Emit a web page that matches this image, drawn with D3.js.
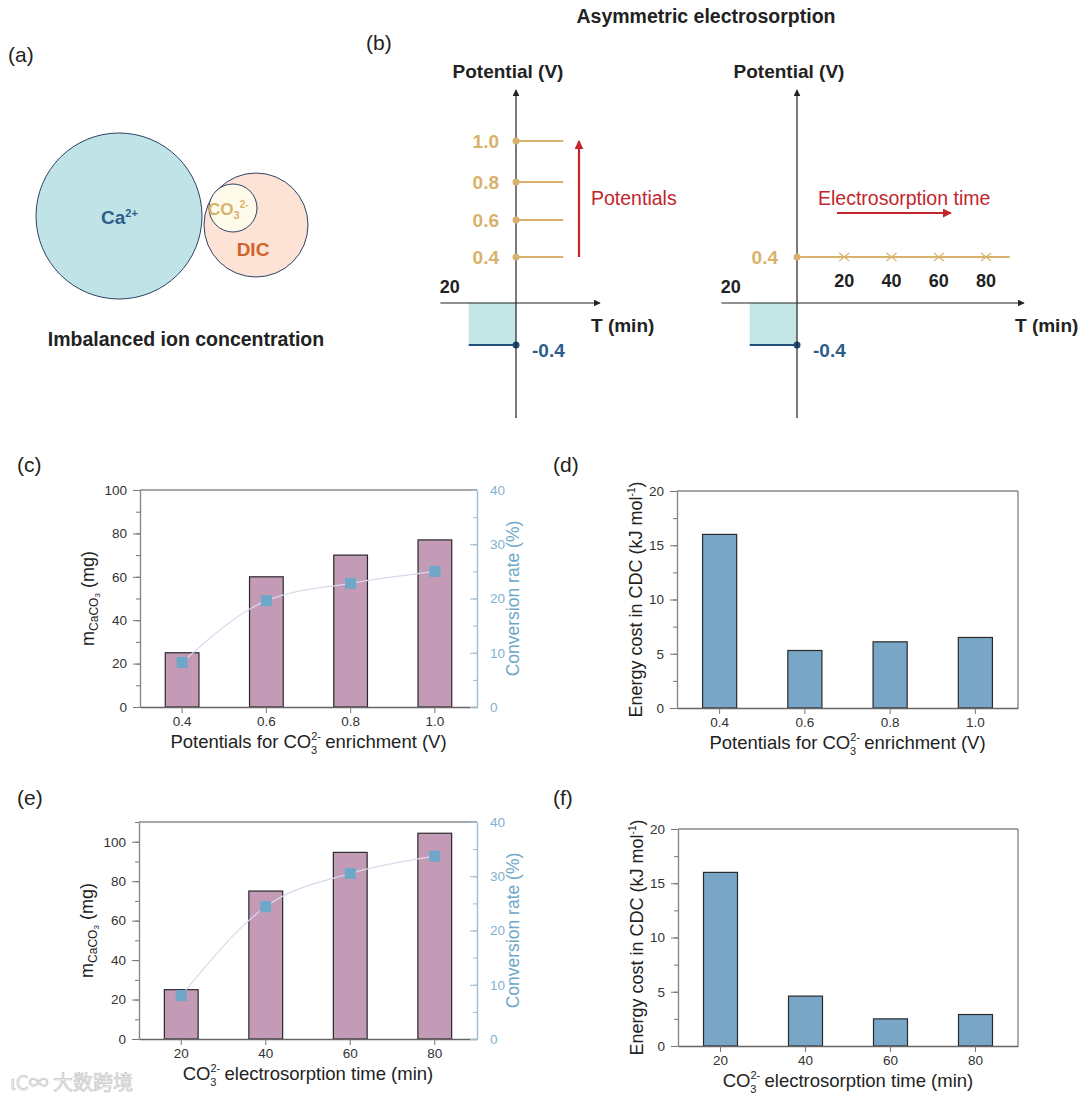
<!DOCTYPE html>
<html>
<head>
<meta charset="utf-8">
<title>Asymmetric electrosorption</title>
<script src="https://d3js.org/d3.v7.min.js"></script>
<style>
  body { margin: 0; background: #fff; }
  svg { display: block; font-family: "Liberation Sans", Arial, sans-serif; }
</style>
</head>
<body>
<script>
// data
var potentials = ["0.4", "0.6", "0.8", "1.0"];
var massByPotential = [25, 60, 70, 77];
var convByPotential = [8.2, 19.6, 22.8, 25.0];
var energyByPotential = [16.0, 5.3, 6.1, 6.5];

var times = ["20", "40", "60", "80"];
var massByTime = [25, 75, 94.6, 104.3];
var convByTime = [8.0, 24.4, 30.5, 33.7];
var energyByTime = [16.0, 4.6, 2.5, 2.9];

// schematic values in panel (b)
var enrichPotentials = [0.4, 0.6, 0.8, 1.0];
var enrichTimes = [20, 40, 60, 80];
var releasePotential = -0.4;
var releaseTime = 20;

var tan = "#d8b26c", navy = "#1f4e79", navyText = "#2c5d8a", teal = "#c3e5e6",
    red = "#c1262d", pink = "#c39bb7", blueBar = "#79a6c6", convBlue = "#6ea7c8";

var svg = d3.select("body").append("svg")
  .attr("width", 1080).attr("height", 1102);

var defs = svg.append("defs");
function marker(id, color, size) {
  defs.append("marker").attr("id", id)
    .attr("viewBox", "0 0 10 10").attr("refX", 9).attr("refY", 5)
    .attr("markerWidth", size).attr("markerHeight", size)
    .attr("markerUnits", "userSpaceOnUse").attr("orient", "auto")
    .append("path").attr("d", "M0,0L10,5L0,10z").attr("fill", color);
}
marker("arrK", "#222", 7);
marker("arrR", red, 9);

// panel letters
[["(a)", 8, 62], ["(b)", 366, 50], ["(c)", 17, 472], ["(d)", 553, 472], ["(e)", 17, 805], ["(f)", 553, 805]]
  .forEach(function(d) {
    svg.append("text").attr("x", d[1]).attr("y", d[2]).attr("font-size", 21).attr("fill", "#222").text(d[0]);
  });

// ---------- (a) ----------
var ga = svg.append("g");
ga.append("circle").attr("cx", 119).attr("cy", 216).attr("r", 83)
  .attr("fill", "#bfe3e7").attr("stroke", "#2e4263").attr("stroke-width", 1);
ga.append("circle").attr("cx", 256).attr("cy", 225).attr("r", 52)
  .attr("fill", "#fce3d6").attr("stroke", "#2e4263").attr("stroke-width", 1);
ga.append("circle").attr("cx", 233).attr("cy", 208).attr("r", 24)
  .attr("fill", "#fffbea").attr("stroke", "#2e4263").attr("stroke-width", 1);
var ca = ga.append("text").attr("x", 101).attr("y", 224).attr("font-size", 19)
  .attr("font-weight", "bold").attr("fill", navyText);
ca.append("tspan").text("Ca");
ca.append("tspan").attr("font-size", 11).attr("dy", -7).text("2+");
var co = ga.append("text").attr("x", 208).attr("y", 215).attr("font-size", 17)
  .attr("font-weight", "bold").attr("fill", tan);
co.append("tspan").text("CO");
co.append("tspan").attr("font-size", 11).attr("dy", 4).text("3");
co.append("tspan").attr("font-size", 10).attr("dy", -11).text("2-");
ga.append("text").attr("x", 253).attr("y", 256).attr("text-anchor", "middle")
  .attr("font-size", 19).attr("font-weight", "bold").attr("fill", "#d0622b").text("DIC");
ga.append("text").attr("x", 186).attr("y", 346).attr("text-anchor", "middle")
  .attr("font-size", 19.5).attr("font-weight", "bold").attr("fill", "#222").text("Imbalanced ion concentration");

// ---------- (b) ----------
svg.append("text").attr("x", 706).attr("y", 23).attr("text-anchor", "middle")
  .attr("font-size", 19.5).attr("font-weight", "bold").attr("fill", "#222").text("Asymmetric electrosorption");

// schematic potential scale (not linear across zero)
var yPot = d3.scaleLinear()
  .domain([-0.4, 0, 0.4, 0.6, 0.8, 1.0])
  .range([345, 303, 257, 220, 182, 141]);

function schematic(ax, xEnd) {
  var g = svg.append("g");
  var t = d3.scaleLinear().domain([0, 80]).range([ax, ax + 189]);
  var y0 = yPot(0);
  // release step
  g.append("rect").attr("x", t(-releaseTime)).attr("y", y0)
    .attr("width", t(0) - t(-releaseTime)).attr("height", yPot(releasePotential) - y0)
    .attr("fill", teal);
  g.append("line").attr("x1", t(-releaseTime)).attr("x2", ax)
    .attr("y1", yPot(releasePotential)).attr("y2", yPot(releasePotential))
    .attr("stroke", navy).attr("stroke-width", 2);
  g.append("circle").attr("cx", ax).attr("cy", yPot(releasePotential)).attr("r", 3.5).attr("fill", navy);
  g.append("text").attr("x", ax + 16).attr("y", yPot(releasePotential) + 12)
    .attr("font-size", 19).attr("font-weight", "bold").attr("fill", navyText).text("-0.4");
  // axes
  g.append("line").attr("x1", ax).attr("x2", ax).attr("y1", 418).attr("y2", 90)
    .attr("stroke", "#222").attr("stroke-width", 1.2).attr("marker-end", "url(#arrK)");
  g.append("line").attr("x1", t(-32)).attr("x2", xEnd).attr("y1", y0).attr("y2", y0)
    .attr("stroke", "#222").attr("stroke-width", 1.2).attr("marker-end", "url(#arrK)");
  g.append("text").attr("x", ax - 8).attr("y", 78).attr("text-anchor", "middle")
    .attr("font-size", 19).attr("font-weight", "bold").attr("fill", "#222").text("Potential (V)");
  g.append("text").attr("x", xEnd - 9).attr("y", y0 + 29)
    .attr("font-size", 19).attr("font-weight", "bold").attr("fill", "#222").text("T (min)");
  g.append("text").attr("x", t(-20) - 19).attr("y", y0 - 10).attr("text-anchor", "middle")
    .attr("font-size", 18).attr("font-weight", "bold").attr("fill", "#222").text(releaseTime);
  return { g: g, t: t };
}

// left schematic: several potentials
var left = schematic(516, 600);
left.g.selectAll(".pl").data(enrichPotentials).enter().append("line")
  .attr("x1", 516).attr("x2", left.t(20))
  .attr("y1", function(d) { return yPot(d); }).attr("y2", function(d) { return yPot(d); })
  .attr("stroke", tan).attr("stroke-width", 2);
left.g.selectAll(".pd").data(enrichPotentials).enter().append("circle")
  .attr("cx", 516).attr("cy", function(d) { return yPot(d); }).attr("r", 3.5).attr("fill", tan);
left.g.selectAll(".pt").data(enrichPotentials).enter().append("text")
  .attr("x", 499).attr("y", function(d) { return yPot(d) + 7; }).attr("text-anchor", "end")
  .attr("font-size", 19).attr("font-weight", "bold").attr("fill", tan)
  .text(function(d) { return d.toFixed(1); });
left.g.append("line").attr("x1", 579).attr("x2", 579)
  .attr("y1", yPot(0.4)).attr("y2", yPot(1.0))
  .attr("stroke", red).attr("stroke-width", 2.2).attr("marker-end", "url(#arrR)");
left.g.append("text").attr("x", 591).attr("y", 205)
  .attr("font-size", 19.5).attr("fill", red).text("Potentials");

// right schematic: one potential, several times
var right = schematic(797, 1024);
right.g.append("line").attr("x1", 797).attr("x2", right.t(90))
  .attr("y1", yPot(0.4)).attr("y2", yPot(0.4)).attr("stroke", tan).attr("stroke-width", 2);
right.g.append("circle").attr("cx", 797).attr("cy", yPot(0.4)).attr("r", 3.5).attr("fill", tan);
right.g.append("text").attr("x", 778).attr("y", yPot(0.4) + 7).attr("text-anchor", "end")
  .attr("font-size", 19).attr("font-weight", "bold").attr("fill", tan).text("0.4");
right.g.selectAll(".tx").data(enrichTimes).enter().append("path")
  .attr("d", function(d) {
    var x = right.t(d), y = yPot(0.4);
    return "M" + (x - 5) + "," + (y - 4) + "L" + (x + 5) + "," + (y + 4) +
           "M" + (x - 5) + "," + (y + 4) + "L" + (x + 5) + "," + (y - 4);
  })
  .attr("stroke", tan).attr("stroke-width", 1.2);
right.g.selectAll(".tl").data(enrichTimes).enter().append("text")
  .attr("x", function(d) { return right.t(d); }).attr("y", 287).attr("text-anchor", "middle")
  .attr("font-size", 18).attr("font-weight", "bold").attr("fill", "#222").text(function(d) { return d; });
right.g.append("text").attr("x", 818).attr("y", 205)
  .attr("font-size", 19.5).attr("fill", red).text("Electrosorption time");
right.g.append("line").attr("x1", 837).attr("x2", 951).attr("y1", 213).attr("y2", 213)
  .attr("stroke", red).attr("stroke-width", 2.2).attr("marker-end", "url(#arrR)");

// ---------- bar charts ----------
function barChart(o) {
  var g = svg.append("g");
  var x = d3.scaleBand().domain(o.cats).range([o.x0, o.x1]).paddingInner(0.6).paddingOuter(0.3);
  var y = d3.scaleLinear().domain([0, o.yMax]).range([o.yB, o.yT]);

  // frame top + right
  g.append("line").attr("x1", o.x0).attr("x2", o.x1).attr("y1", o.yT).attr("y2", o.yT)
    .attr("stroke", "#888").attr("stroke-width", 1.4);
  if (!o.conv) {
    g.append("line").attr("x1", o.x1).attr("x2", o.x1).attr("y1", o.yT).attr("y2", o.yB)
      .attr("stroke", "#888").attr("stroke-width", 1.4);
  }

  g.selectAll(".bar").data(o.vals).enter().append("rect")
    .attr("x", function(d, i) { return x(o.cats[i]); })
    .attr("y", function(d) { return y(d); })
    .attr("width", x.bandwidth())
    .attr("height", function(d) { return y(0) - y(d); })
    .attr("fill", o.color).attr("stroke", "#2a2a2a").attr("stroke-width", 1.2);

  // left axis
  var minor = d3.range(0, o.yMax + 0.001, o.minor);
  g.append("g").attr("transform", "translate(" + o.x0 + ",0)")
    .call(d3.axisLeft(y).tickValues(minor).tickSize(4).tickFormat(""))
    .call(function(s) { s.select(".domain").remove(); s.selectAll("line").attr("stroke", "#777"); });
  g.append("g").attr("transform", "translate(" + o.x0 + ",0)")
    .call(d3.axisLeft(y).tickValues(o.major).tickSize(7).tickSizeOuter(0).tickPadding(6))
    .call(function(s) {
      s.select(".domain").attr("stroke", "#888").attr("stroke-width", 1.4);
      s.selectAll("line").attr("stroke", "#777");
      s.selectAll("text").attr("font-size", 13.5).attr("fill", "#333")
        .attr("font-family", "Liberation Sans, Arial, sans-serif");
    });

  // bottom axis
  g.append("g").attr("transform", "translate(0," + o.yB + ")")
    .call(d3.axisBottom(x).tickSize(6).tickSizeOuter(0).tickPadding(3))
    .call(function(s) {
      s.select(".domain").attr("stroke", "#666").attr("stroke-width", 1.4);
      s.selectAll("line").attr("stroke", "#777");
      s.selectAll("text").attr("font-size", 13.5).attr("fill", "#333")
        .attr("font-family", "Liberation Sans, Arial, sans-serif");
    });

  // conversion rate on right axis
  if (o.conv) {
    var y2 = d3.scaleLinear().domain([0, 40]).range([o.yB, o.yT]);
    g.append("g").attr("transform", "translate(" + o.x1 + ",0)")
      .call(d3.axisRight(y2).tickValues(d3.range(0, 40.1, 5)).tickSize(-4).tickFormat(""))
      .call(function(s) { s.select(".domain").remove(); s.selectAll("line").attr("stroke", "#9cbcd0"); });
    g.append("g").attr("transform", "translate(" + o.x1 + ",0)")
      .call(d3.axisRight(y2).tickValues([0, 10, 20, 30, 40]).tickSize(-7).tickSizeOuter(0).tickPadding(13))
      .call(function(s) {
        s.select(".domain").attr("stroke", "#9cbcd0").attr("stroke-width", 1.4);
        s.selectAll("line").attr("stroke", "#9cbcd0");
        s.selectAll("text").attr("font-size", 13.5).attr("fill", "#7fb2d2")
          .attr("font-family", "Liberation Sans, Arial, sans-serif");
      });
    var cx = function(d, i) { return x(o.cats[i]) + x.bandwidth() / 2; };
    var line = d3.line().x(cx).y(function(d) { return y2(d); }).curve(d3.curveMonotoneX);
    g.append("path").attr("d", line(o.conv)).attr("fill", "none")
      .attr("stroke", "#d9d9ec").attr("stroke-width", 1.2);
    g.selectAll(".sq").data(o.conv).enter().append("rect")
      .attr("x", function(d, i) { return cx(d, i) - 5.5; })
      .attr("y", function(d) { return y2(d) - 5.5; })
      .attr("width", 11).attr("height", 11).attr("fill", convBlue);
    g.append("text")
      .attr("transform", "translate(" + (o.x1 + 42) + "," + ((o.yT + o.yB) / 2) + ") rotate(-90)")
      .attr("text-anchor", "middle").attr("font-size", 17.5).attr("fill", convBlue).text("Conversion rate (%)");
  }

  // y label
  var yl = g.append("text")
    .attr("transform", "translate(" + (o.x0 - (o.conv ? 46 : 35)) + "," + ((o.yT + o.yB) / 2) + ") rotate(-90)")
    .attr("text-anchor", "middle").attr("font-size", 18).attr("fill", "#222");
  if (o.conv) {
    yl.append("tspan").text("m");
    yl.append("tspan").attr("font-size", 12).attr("dy", 4).text("CaCO");
    yl.append("tspan").attr("font-size", 8).attr("dy", 2).text("3");
    yl.append("tspan").attr("dy", -6).text(" (mg)");
  } else {
    yl.append("tspan").text("Energy cost in CDC (kJ mol");
    yl.append("tspan").attr("font-size", 10).attr("dy", -7).text("-1");
    yl.append("tspan").attr("dy", 7).text(")");
  }

  // x label with CO3 2-
  var xl = g.append("text").attr("x", (o.x0 + o.x1) / 2).attr("y", o.yB + 41)
    .attr("text-anchor", "middle").attr("font-size", 18.5).attr("fill", "#222");
  xl.append("tspan").text(o.xPre + "CO");
  xl.append("tspan").attr("font-size", 11).attr("dy", -8).text("2-");
  xl.append("tspan").attr("font-size", 11).attr("dx", -10).attr("dy", 14).text("3");
  xl.append("tspan").attr("dx", 3).attr("dy", -6).text(" " + o.xPost);
}

barChart({ cats: potentials, vals: massByPotential, conv: convByPotential, color: pink,
  x0: 140, x1: 477, yT: 490, yB: 707, yMax: 100, major: [0, 20, 40, 60, 80, 100], minor: 10,
  xPre: "Potentials for ", xPost: "enrichment (V)" });
barChart({ cats: potentials, vals: energyByPotential, color: blueBar,
  x0: 677, x1: 1018, yT: 491, yB: 708, yMax: 20, major: [0, 5, 10, 15, 20], minor: 2.5,
  xPre: "Potentials for ", xPost: "enrichment (V)" });
barChart({ cats: times, vals: massByTime, conv: convByTime, color: pink,
  x0: 139, x1: 477, yT: 822, yB: 1039, yMax: 110, major: [0, 20, 40, 60, 80, 100], minor: 10,
  xPre: "", xPost: "electrosorption time (min)" });
barChart({ cats: times, vals: energyByTime, color: blueBar,
  x0: 678, x1: 1018, yT: 829, yB: 1046, yMax: 20, major: [0, 5, 10, 15, 20], minor: 2.5,
  xPre: "", xPost: "electrosorption time (min)" });

// watermark
svg.append("text").attr("x", 10).attr("y", 1090).attr("font-size", 20)
  .attr("font-family", "Noto Sans CJK SC, sans-serif")
  .attr("fill", "#eeeeee").attr("stroke", "#c8c8c8").attr("stroke-width", 0.7)
  .text("ιC∞ 大数跨境");
</script>
</body>
</html>
